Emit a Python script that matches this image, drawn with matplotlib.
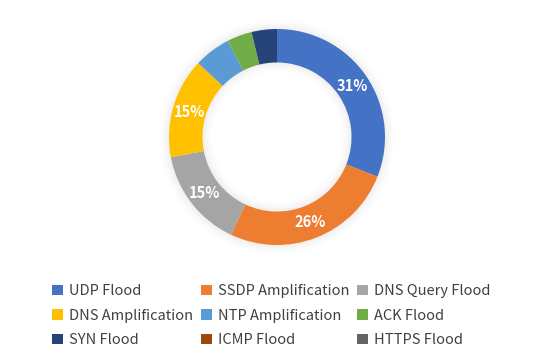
import matplotlib
matplotlib.use('Agg')
import matplotlib.pyplot as plt
from matplotlib.patches import Patch
import numpy as np

labels = ['UDP Flood', 'SSDP Amplification', 'DNS Query Flood',
          'DNS Amplification', 'NTP Amplification', 'ACK Flood',
          'SYN Flood', 'ICMP Flood', 'HTTPS Flood']
shares = [31, 26, 15, 15, 5.5, 3.7, 3.8, 0, 0]
shown = ['31%', '26%', '15%', '15%', '', '', '', '', '']
colors = ['#4472C4', '#ED7D31', '#A5A5A5', '#FFC000', '#5B9BD5',
          '#70AD47', '#264478', '#9E480E', '#636363']

plt.rcParams['font.family'] = ['Noto Sans CJK SC', 'DejaVu Sans']

fig = plt.figure(figsize=(5.56, 3.63), dpi=100)
ax = fig.add_axes([169/556, 118/363, 216/556, 216/363])

# soft shadow behind the ring
for i, a in enumerate([0.02, 0.015, 0.01, 0.006]):
    ax.pie([1], radius=1.0 + 0.022*(i+1), colors=['#000000'],
           wedgeprops=dict(width=0.31 + 0.044*(i+1), alpha=a, linewidth=0),
           startangle=90)

wedges, _ = ax.pie(shares, colors=colors, startangle=90, counterclock=False,
                   radius=1.0, wedgeprops=dict(width=0.31, linewidth=0))

cum = 0
for s, t in zip(shares, shown):
    mid = cum + s / 2
    cum += s
    if not t:
        continue
    ang = np.deg2rad(90 - mid / sum(shares) * 360)
    r = 0.845
    ax.text(r*np.cos(ang), r*np.sin(ang), t, ha='center', va='center',
            color='#FFFFFF', fontsize=10.5, fontweight='bold')

ax.set_xlim(-1.0, 1.0)
ax.set_ylim(-1.0, 1.0)
ax.set_aspect('equal')
ax.axis('off')

# legend fills column-wise, reorder so it reads row by row
ncol = 3
order = [r*ncol + c for c in range(ncol) for r in range(3)]
handles = [Patch(facecolor=colors[i], edgecolor='none') for i in order]
fig.legend(handles, [labels[i] for i in order], ncol=ncol, loc='upper left',
           bbox_to_anchor=(39/556, 1 - 271/363), frameon=False,
           fontsize=10.5, handlelength=0.75, handleheight=0.75,
           handletextpad=0.4, columnspacing=0.55, labelspacing=0.72,
           labelcolor='#404040')

fig.savefig('out.png', dpi=100)
